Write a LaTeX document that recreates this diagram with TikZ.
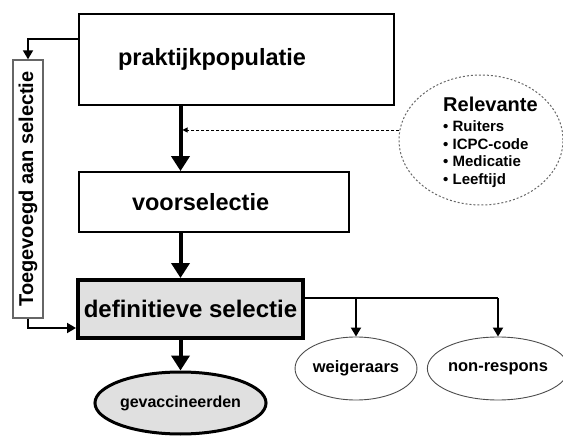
\documentclass[tikz,border=0pt]{standalone}
\usepackage{fontspec}
\setmainfont{Liberation Sans}
\usetikzlibrary{arrows.meta,shapes.geometric}

\begin{document}
\begin{tikzpicture}[x=1pt,y=-1pt,
    stapbox/.style={draw,rectangle,line width=1.8pt,inner ysep=0pt,align=left,
      font=\bfseries\fontsize{23.5}{28}\selectfont},
    kantbox/.style={draw=black!60,rectangle,line width=1.4pt,inner sep=0pt,
      font=\bfseries\fontsize{20}{24}\selectfont},
    uitval/.style={draw=black!70,ellipse,line width=0.9pt,inner sep=0pt,
      minimum width=118pt,minimum height=63pt,font=\bfseries\fontsize{16.5}{20}\selectfont},
    hoofdpijl/.style={line width=4pt,-{Triangle[length=15pt,width=18pt]}},
    zijpijl/.style={line width=1.8pt,-{Triangle[length=9pt,width=10pt]}}]
\useasboundingbox (0,0) rectangle (563,436);

% hoofdlijn
\node[stapbox,minimum height=91pt,inner xsep=39pt,text width=237pt] (prak) at (236.5,59.5) {praktijkpopulatie};
\node[stapbox,minimum height=60pt,inner xsep=53pt,text width=164pt] (voor) at (214,202) {voorselectie};
\node[stapbox,line width=4pt,fill=black!12,minimum width=225pt,minimum height=58pt,inner xsep=0pt,
  font=\bfseries\fontsize{24}{28}\selectfont] (defsel) at (190.5,309) {definitieve selectie};
\node[draw,ellipse,line width=3pt,fill=black!12,inner sep=0pt,minimum width=155pt,minimum height=62pt,
  font=\bfseries\fontsize{16}{20}\selectfont] (gevac) at (180.5,403) {gevaccineerden};

% zijtakken
\node[uitval] (weig) at (356,368.5) {weigeraars};
\node[uitval] (nonr) at (498,368.5) {non-respons};
\node[kantbox,rotate=90,minimum width=258pt,minimum height=30pt] (toeg) at (28,189) {Toegevoegd aan selectie};

\node[draw=black!60,ellipse,line width=1pt,dash pattern=on 2pt off 2pt,minimum width=164pt,minimum height=130pt] (relev) at (481,140) {};
\node[anchor=north west,inner sep=0pt,align=left,font=\bfseries\fontsize{15}{17.7}\selectfont] (relevtxt) at (443,97)
  {{\fontsize{20}{20}\selectfont Relevante}\\[2pt]
   \textbullet\ Ruiters\\ \textbullet\ ICPC-code\\ \textbullet\ Medicatie\\ \textbullet\ Leeftijd};

\draw[hoofdpijl] (prak.south -| gevac.north) -- (voor.north -| gevac.north);
\draw[hoofdpijl] (voor.south -| gevac.north) -- (defsel.north -| gevac.north);
\draw[hoofdpijl] (defsel.south -| gevac.north) -- (gevac.north);

\draw[line width=0.9pt,densely dashed,-{Triangle[length=5pt,width=5pt]},shorten >=2pt]
  (relev.173) -- (relev.173 -| gevac.north);

\draw[zijpijl] ([yshift=20.5pt]prak.west) -| (toeg.east);
\draw[zijpijl] (toeg.west) |- ([yshift=-19pt]defsel.west);

\draw[line width=1.8pt] ([yshift=11pt]defsel.east) -- ([yshift=11pt]defsel.east -| nonr.north);
\draw[zijpijl] ([yshift=11pt]defsel.east -| weig.north) -- (weig.north);
\draw[zijpijl] ([yshift=11pt]defsel.east -| nonr.north) -- (nonr.north);
\end{tikzpicture}
\end{document}
